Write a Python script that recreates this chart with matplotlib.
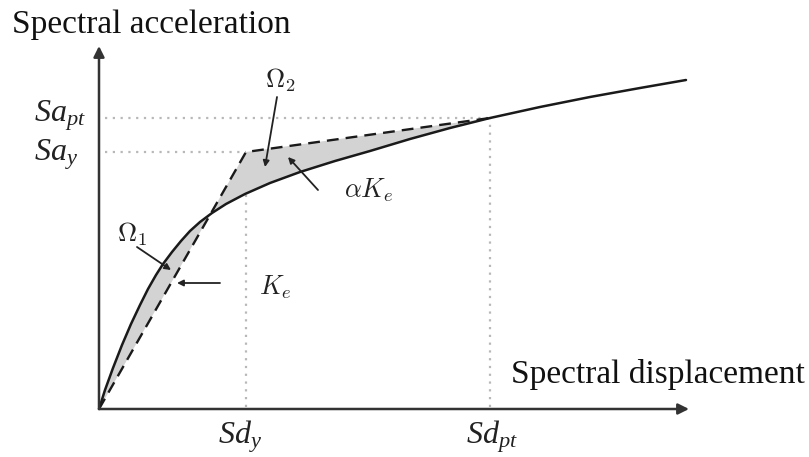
import matplotlib
matplotlib.use("Agg")
import matplotlib.pyplot as plt

plt.rcParams['font.family'] = ['Liberation Serif', 'DejaVu Serif']
plt.rcParams['mathtext.fontset'] = 'custom'
plt.rcParams['mathtext.rm'] = 'Liberation Serif'
plt.rcParams['mathtext.it'] = 'Liberation Serif:italic'

# Capacity curve (spectral displacement vs spectral acceleration)
sd_curve = [0.0, 0.06, 0.14, 0.23, 0.32, 0.41, 0.49, 0.57, 0.64, 0.73, 0.82, 0.91, 1.01,
            1.13, 1.27, 1.46, 1.71, 2.01, 2.36, 2.71, 3.11, 3.51, 3.91, 4.41, 4.91, 5.41, 5.87]
sa_curve = [0.0, 0.19, 0.41, 0.64, 0.85, 1.04, 1.20, 1.34, 1.45, 1.57, 1.68, 1.78, 1.87,
            1.96, 2.05, 2.15, 2.26, 2.37, 2.48, 2.58, 2.70, 2.81, 2.91, 3.02, 3.12, 3.21, 3.29]

# Bilinear idealisation: origin -> yield -> performance point
sd_y, sa_y = 1.47, 2.57
sd_pt, sa_pt = 3.91, 2.91
sd_bilin = [0.0, sd_y, sd_pt]
sa_bilin = [0.0, sa_y, sa_pt]

fig = plt.figure(figsize=(8.09, 4.57), dpi=100)
ax = fig.add_axes([0, 0, 1, 1])
ax.set_xlim(-0.99, 7.10)
ax.set_ylim(-0.48, 4.09)
ax.axis('off')

# dotted guide lines
dot = dict(color='#b8b8b8', lw=1.6, linestyle=(0, (1, 2.5)), zorder=1)
ax.plot([0.06, sd_pt], [sa_pt, sa_pt], **dot)
ax.plot([0.06, sd_y], [sa_y, sa_y], **dot)
ax.plot([sd_y, sd_y], [0.02, sa_y], **dot)
ax.plot([sd_pt, sd_pt], [0.02, sa_pt], **dot)

# shaded areas Omega1 / Omega2 between curve and bilinear
n = sd_curve.index(sd_pt) + 1
poly_x = sd_curve[:n] + sd_bilin[::-1]
poly_y = sa_curve[:n] + sa_bilin[::-1]
ax.fill(poly_x, poly_y, color='#d3d3d3', lw=0, zorder=2)

ax.plot(sd_curve, sa_curve, color='#1a1a1a', lw=1.8, zorder=4,
        solid_joinstyle='round', solid_capstyle='round')
ax.plot(sd_bilin, sa_bilin, color='#1a1a1a', lw=1.7, dashes=(5, 3), zorder=3)

# axes with arrows
arr = dict(arrowstyle='-|>', color='#333333', lw=1.8, mutation_scale=16, shrinkA=0, shrinkB=0)
ax.annotate('', xy=(5.90, 0), xytext=(0, 0), arrowprops=arr, zorder=5)
ax.annotate('', xy=(0, 3.63), xytext=(0, 0), arrowprops=arr, zorder=5)

ax.text(-0.87, 3.84, 'Spectral acceleration', fontsize=24, ha='left', va='center', color='#111111')
ax.text(7.06, 0.34, 'Spectral displacement', fontsize=24, ha='right', va='center', color='#111111')

lab = dict(fontsize=23, va='center', ha='center', color='#222222')
ax.text(-0.39, 2.93, r'$Sa_{pt}$', **lab)
ax.text(-0.43, 2.54, r'$Sa_{y}$', **lab)
ax.text(1.41, -0.28, r'$Sd_{y}$', **lab)
ax.text(3.93, -0.28, r'$Sd_{pt}$', **lab)

# annotation labels and pointer arrows
ptr = dict(arrowstyle='-|>', color='#222222', lw=1.3, mutation_scale=9, shrinkA=0, shrinkB=0)
cm = dict(fontsize=19, ha='center', va='center', math_fontfamily='cm', color='#222222')
ax.text(1.81, 3.29, r'$\Omega_2$', **cm)
ax.annotate('', xy=(1.66, 2.42), xytext=(1.78, 3.12), arrowprops=ptr, zorder=6)
ax.text(2.70, 2.19, r'$\alpha K_e$', **cm)
ax.annotate('', xy=(1.89, 2.52), xytext=(2.19, 2.19), arrowprops=ptr, zorder=6)
ax.text(0.33, 1.75, r'$\Omega_1$', **cm)
ax.annotate('', xy=(0.72, 1.39), xytext=(0.38, 1.62), arrowprops=ptr, zorder=6)
ax.text(1.76, 1.22, r'$K_e$', **cm)
ax.annotate('', xy=(0.78, 1.26), xytext=(1.21, 1.26), arrowprops=ptr, zorder=6)

fig.savefig('out.png', dpi=100)
